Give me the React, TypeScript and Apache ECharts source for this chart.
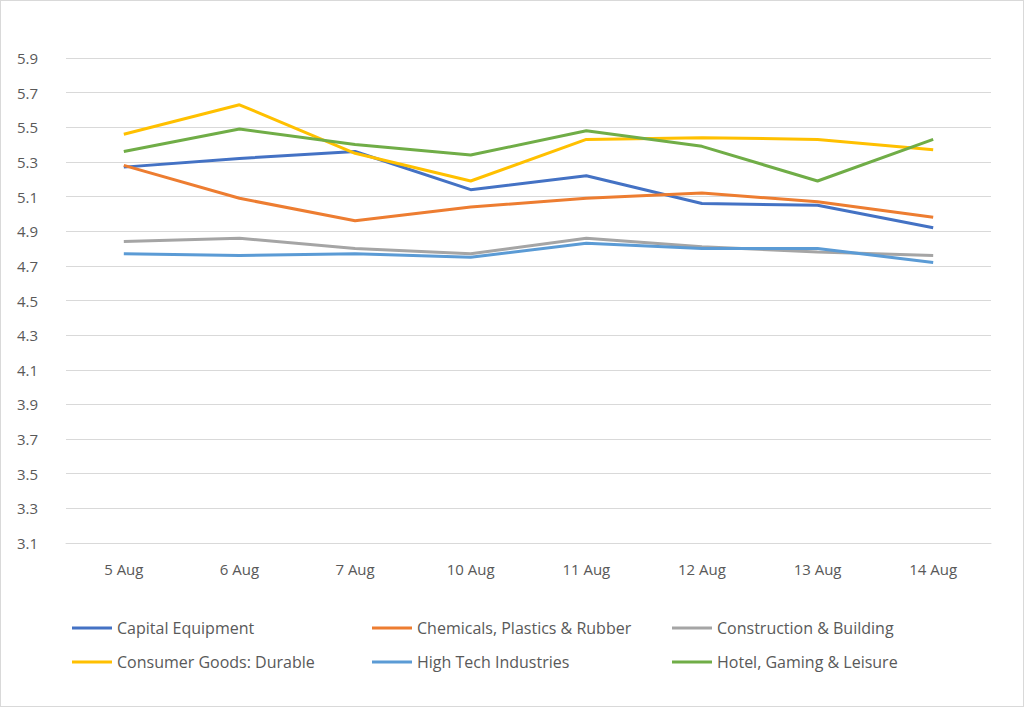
import { useEffect, useRef } from "react";
import * as echarts from "echarts";

const categories = ["5 Aug", "6 Aug", "7 Aug", "10 Aug", "11 Aug", "12 Aug", "13 Aug", "14 Aug"];
const capitalEquipment = [5.27, 5.32, 5.36, 5.14, 5.22, 5.06, 5.05, 4.92];
const chemicals = [5.28, 5.09, 4.96, 5.04, 5.09, 5.12, 5.07, 4.98];
const construction = [4.84, 4.86, 4.8, 4.77, 4.86, 4.81, 4.78, 4.76];
const consumerDurable = [5.46, 5.63, 5.35, 5.19, 5.43, 5.44, 5.43, 5.37];
const highTech = [4.77, 4.76, 4.77, 4.75, 4.83, 4.8, 4.8, 4.72];
const hotelGaming = [5.36, 5.49, 5.4, 5.34, 5.48, 5.39, 5.19, 5.43];

const seriesList = [
  { name: "Capital Equipment", data: capitalEquipment, color: "#4472C4" },
  { name: "Chemicals, Plastics & Rubber", data: chemicals, color: "#ED7D31" },
  { name: "Construction & Building", data: construction, color: "#A5A5A5" },
  { name: "Consumer Goods: Durable", data: consumerDurable, color: "#FFC000" },
  { name: "High Tech Industries", data: highTech, color: "#5B9BD5" },
  { name: "Hotel, Gaming & Leisure", data: hotelGaming, color: "#70AD47" },
];

const textColor = "#595959";
const font = "'Open Sans', 'Liberation Sans', sans-serif";

export default function App() {
  const chartRef = useRef<HTMLDivElement>(null);

  useEffect(() => {
    if (!chartRef.current) return;
    const chart = echarts.init(chartRef.current, undefined, { renderer: "svg" });

    // 每列一个图例，模仿 Excel 的网格布局
    const legendCol = (left: number, names: string[]) => ({
      orient: "vertical" as const,
      left,
      top: 614,
      itemWidth: 40,
      itemHeight: 3,
      itemGap: 18,
      icon: "rect",
      data: names,
      textStyle: { color: textColor, fontSize: 16, fontFamily: font },
    });

    chart.setOption({
      animation: false,
      textStyle: { fontFamily: font },
      grid: { left: 65, right: 32, top: 57, bottom: 163 },
      legend: [
        legendCol(66, [seriesList[0].name, seriesList[3].name]),
        legendCol(366, [seriesList[1].name, seriesList[4].name]),
        legendCol(666, [seriesList[2].name, seriesList[5].name]),
      ],
      xAxis: {
        type: "category",
        data: categories,
        boundaryGap: true,
        axisLine: { lineStyle: { color: "#D9D9D9" } },
        axisTick: { show: false },
        axisLabel: { color: textColor, fontSize: 15, margin: 18 },
      },
      yAxis: {
        type: "value",
        min: 3.1,
        max: 5.9,
        interval: 0.2,
        axisLine: { show: false },
        axisTick: { show: false },
        axisLabel: {
          color: textColor,
          fontSize: 15,
          margin: 28,
          formatter: (v: number) => v.toFixed(1),
        },
        splitLine: { lineStyle: { color: "#D9D9D9" } },
      },
      series: seriesList.map((s) => ({
        name: s.name,
        type: "line",
        data: s.data,
        showSymbol: false,
        symbol: "none",
        lineStyle: { width: 3, color: s.color },
        itemStyle: { color: s.color },
      })),
    });

    return () => chart.dispose();
  }, []);

  return (
    <div
      ref={chartRef}
      style={{
        position: "absolute",
        left: 0,
        top: 0,
        width: 1022,
        height: 705,
        border: "1px solid #D9D9D9",
        background: "#fff",
      }}
    />
  );
}
